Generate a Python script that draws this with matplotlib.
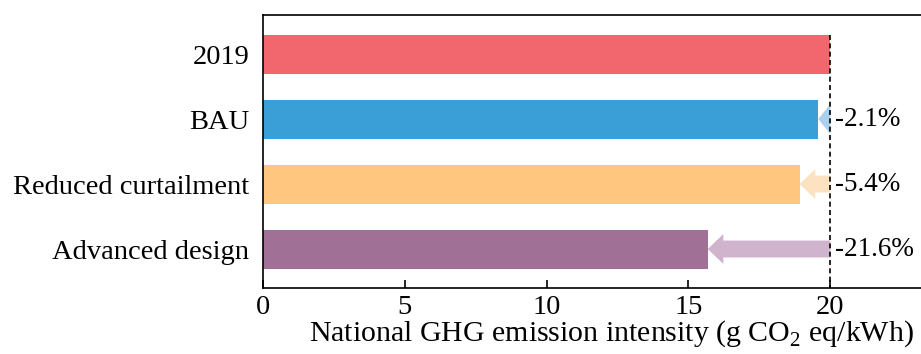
import matplotlib
matplotlib.use('Agg')
import matplotlib.pyplot as plt

# Data
scenarios = ['2019', 'BAU', 'Reduced curtailment', 'Advanced design']
intensity = [20.0, 19.58, 18.92, 15.68]
change_labels = ['', '-2.1%', '-5.4%', '-21.6%']
bar_colors = ['#f2666e', '#3a9fd6', '#fec67e', '#a07096']
arrow_colors = ['#f2666e', '#a9d0ec', '#fde2c2', '#d0b3cd']

plt.rcParams['font.family'] = ['Liberation Serif', 'DejaVu Serif']
plt.rcParams['mathtext.fontset'] = 'custom'
plt.rcParams['mathtext.rm'] = 'Liberation Serif'

fig = plt.figure(figsize=(9.21, 3.54), dpi=100)
ax = fig.add_axes([0.2856, 0.1864, 0.7144, 0.7712])

y = list(range(len(scenarios)))
ax.barh(y, intensity, height=0.6, color=bar_colors)

base = intensity[0]
ax.vlines(base, -0.3, 3.6, colors='black', linestyles=(0, (3, 2)), linewidth=1.2)

for i in range(1, len(scenarios)):
    length = intensity[i] - base
    hl = min(0.55, abs(length))
    ax.arrow(base, i, length, 0, width=0.26, head_width=0.46, head_length=hl,
             length_includes_head=True, color=arrow_colors[i], linewidth=0)
    ax.text(base + 0.15, i, change_labels[i], va='center', ha='left', fontsize=19.5)

ax.set_xlim(0, 23.2)
ax.set_ylim(3.6, -0.6)
ax.set_yticks(y)
ax.set_yticklabels(scenarios, fontsize=20.5)
ax.set_xticks([0, 5, 10, 15, 20])
ax.tick_params(axis='x', direction='in', labelsize=20.5, length=6, width=1.2, pad=5)
ax.tick_params(axis='y', length=0, pad=10)
ax.set_xlabel('National GHG emission intensity (g CO$_2$ eq/kWh)', fontsize=21.5)
# the original figure is cropped on the right, so the label sits off-centre
ax.xaxis.set_label_coords(0.529, -0.11)
ax.spines['right'].set_visible(False)
for s in ['top', 'left', 'bottom']:
    ax.spines[s].set_linewidth(1.2)

fig.savefig('out.png', dpi=100)
